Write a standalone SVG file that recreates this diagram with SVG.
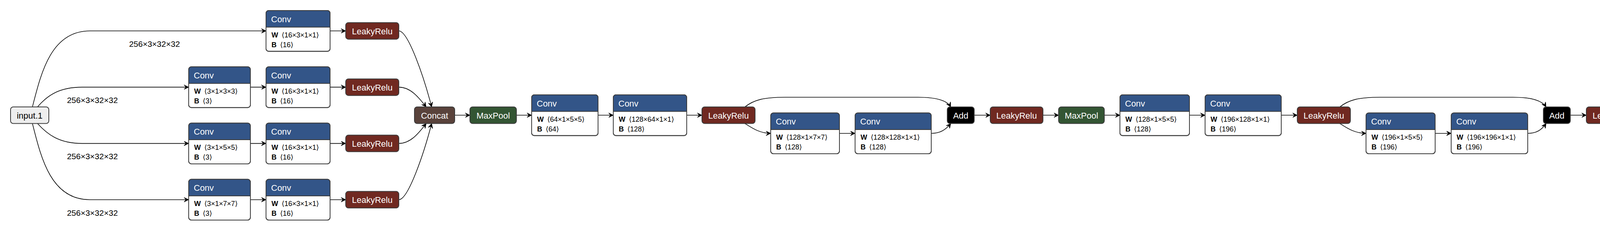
<svg xmlns="http://www.w3.org/2000/svg" width="5108" height="592" viewBox="0 0 5108 592">
<defs>
<marker id="arr" markerUnits="userSpaceOnUse" markerWidth="12" markerHeight="12" refX="10" refY="5" orient="auto" viewBox="0 0 10 10">
<path d="M0,0 L10,5 L0,10 L4,5 z" fill="#000" stroke="#000" stroke-width="0.8"/>
</marker>
<style>
text{font-family:"Liberation Sans",Arial,"DejaVu Sans",sans-serif}
.bx{stroke:#3a3a3a;stroke-width:2}
.t{font-size:22px;fill:#fff}
.tc{text-anchor:middle}
.io{fill:#eee;stroke:#3a3a3a;stroke-width:2}
.tio{font-size:22px;fill:#000;text-anchor:middle}
.wh{fill:#fff;stroke:#3a3a3a;stroke-width:2}
.a{font-size:18px;fill:#000}
.b{font-weight:bold}
.e{fill:none;stroke:#000;stroke-width:1.6;marker-end:url(#arr)}
.lbl{font-size:21px;fill:#000;text-anchor:middle}
.conv{fill:#335588}
.act{fill:#702921}
.pool{fill:#335533}
.cat{fill:#59423b}
.shp{fill:#6c4f47}
.add{fill:#000}
.sep{stroke:#3a3a3a;stroke-width:2}
</style>
</defs>
<rect width="5108" height="592" fill="#fff"/>

<g id="edges">
<path class="e" d="M83,274 C105,188 130,79.2 230,79.2 L681,79.2"/>
<path class="e" d="M96,274 C120,246 150,223.4 210,223.4 L483,223.4"/>
<path class="e" d="M96,316.5 C120,343 150,367.6 210,367.6 L483,367.6"/>
<path class="e" d="M83,316.5 C105,404 130,511.8 230,511.8 L483,511.8"/>
<path class="e" d="M641,223.4 L681,223.4"/>
<path class="e" d="M641,367.6 L681,367.6"/>
<path class="e" d="M641,511.8 L681,511.8"/>
<path class="e" d="M845,79.2 L885,79.2"/>
<path class="e" d="M845,223.4 L885,223.4"/>
<path class="e" d="M845,367.6 L885,367.6"/>
<path class="e" d="M845,511.8 L885,511.8"/>
<path class="e" d="M1021,79.2 C1045,79.2 1085,197 1105,274"/>
<path class="e" d="M1021,223.4 C1050,223.4 1070,247 1091,274"/>
<path class="e" d="M1021,367.6 C1050,367.6 1070,344 1091,316.5"/>
<path class="e" d="M1021,511.8 C1045,511.8 1085,394 1105,316.5"/>
<path class="e" d="M1164,295.25 H1203"/>
<path class="e" d="M1322,295.25 H1361"/>
<path class="e" d="M1531,295.25 H1570"/>
<path class="e" d="M1758,295.25 H1797"/>
<path class="e" d="M1907,274 C1930,256 1955,249.3 2010,249.3 L2350,249.3 C2400,249.3 2425,258 2434,274"/>
<path class="e" d="M1907,316.5 C1925,328 1945,341.75 1973,341.75"/>
<path class="e" d="M2149,341.75 H2189"/>
<path class="e" d="M2384,341.75 C2405,341.75 2420,334 2434,316.5"/>
<path class="e" d="M2494,295.25 H2535"/>
<path class="e" d="M2670,295.25 H2710"/>
<path class="e" d="M2827,295.25 H2867"/>
<path class="e" d="M3045,295.25 H3085"/>
<path class="e" d="M3280,295.25 H3321"/>
<path class="e" d="M3430,274 C3453,256 3478,249.3 3533,249.3 L3873,249.3 C3923,249.3 3948,258 3958,274"/>
<path class="e" d="M3430,316.5 C3448,328 3468,341.75 3497,341.75"/>
<path class="e" d="M3674,341.75 H3715"/>
<path class="e" d="M3911,341.75 C3932,341.75 3946,334 3958,316.5"/>
<path class="e" d="M4020,295.25 H4061"/>
<path class="e" d="M4197,295.25 H4237"/>
<path class="e" d="M4354,295.25 H4394"/>
<path class="e" d="M4544,295.25 H4584"/>
<path class="e" d="M4734,295.25 H4774"/>
<path class="e" d="M4910,295.25 H5023"/>
<text class="lbl" x="395.5" y="120">256×3×32×32</text>
<text class="lbl" x="236.5" y="264.1">256×3×32×32</text>
<text class="lbl" x="236.5" y="408.3">256×3×32×32</text>
<text class="lbl" x="236.5" y="552.5">256×3×32×32</text>
<text class="lbl" x="4967" y="336">256×10</text>
</g>

<g id="input_1">
<rect class="io" x="27" y="274" width="98" height="42.5" rx="7"/>
<text class="tio" x="76" y="303.75">input.1</text>
</g>

<!-- Row 1 -->
<g id="conv_r1c3">
<rect class="wh" x="681" y="27" width="164" height="104.5" rx="7"/>
<path class="conv" d="M681,69.5 V34 Q681,27 688,27 H838 Q845,27 845,34 V69.5 Z"/>
<rect class="bx" x="681" y="27" width="164" height="104.5" rx="7" fill="none"/>
<line class="sep" x1="681" y1="69.5" x2="845" y2="69.5"/>
<text class="t" x="694" y="56.75">Conv</text>
<text class="a b" x="695" y="95.6">W</text><text class="a" x="721" y="95.6">⟨16×3×1×1⟩</text>
<text class="a b" x="695" y="120.5">B</text><text class="a" x="717" y="120.5">⟨16⟩</text>
</g>

<!-- Row 2 -->
<g id="conv_r2c2">
<rect class="wh" x="483" y="171.2" width="158" height="104.5" rx="7"/>
<path class="conv" d="M483,213.7 V178.2 Q483,171.2 490,171.2 H634 Q641,171.2 641,178.2 V213.7 Z"/>
<rect class="bx" x="483" y="171.2" width="158" height="104.5" rx="7" fill="none"/>
<line class="sep" x1="483" y1="213.7" x2="641" y2="213.7"/>
<text class="t" x="496" y="200.9">Conv</text>
<text class="a b" x="497" y="239.8">W</text><text class="a" x="523" y="239.8">⟨3×1×3×3⟩</text>
<text class="a b" x="497" y="264.7">B</text><text class="a" x="519" y="264.7">⟨3⟩</text>
</g>
<g id="conv_r2c3">
<rect class="wh" x="681" y="171.2" width="164" height="104.5" rx="7"/>
<path class="conv" d="M681,213.7 V178.2 Q681,171.2 688,171.2 H838 Q845,171.2 845,178.2 V213.7 Z"/>
<rect class="bx" x="681" y="171.2" width="164" height="104.5" rx="7" fill="none"/>
<line class="sep" x1="681" y1="213.7" x2="845" y2="213.7"/>
<text class="t" x="694" y="200.9">Conv</text>
<text class="a b" x="695" y="239.8">W</text><text class="a" x="721" y="239.8">⟨16×3×1×1⟩</text>
<text class="a b" x="695" y="264.7">B</text><text class="a" x="717" y="264.7">⟨16⟩</text>
</g>

<!-- Row 3 -->
<g id="conv_r3c2">
<rect class="wh" x="483" y="315.4" width="158" height="104.5" rx="7"/>
<path class="conv" d="M483,357.9 V322.4 Q483,315.4 490,315.4 H634 Q641,315.4 641,322.4 V357.9 Z"/>
<rect class="bx" x="483" y="315.4" width="158" height="104.5" rx="7" fill="none"/>
<line class="sep" x1="483" y1="357.9" x2="641" y2="357.9"/>
<text class="t" x="496" y="345.1">Conv</text>
<text class="a b" x="497" y="384">W</text><text class="a" x="523" y="384">⟨3×1×5×5⟩</text>
<text class="a b" x="497" y="408.9">B</text><text class="a" x="519" y="408.9">⟨3⟩</text>
</g>
<g id="conv_r3c3">
<rect class="wh" x="681" y="315.4" width="164" height="104.5" rx="7"/>
<path class="conv" d="M681,357.9 V322.4 Q681,315.4 688,315.4 H838 Q845,315.4 845,322.4 V357.9 Z"/>
<rect class="bx" x="681" y="315.4" width="164" height="104.5" rx="7" fill="none"/>
<line class="sep" x1="681" y1="357.9" x2="845" y2="357.9"/>
<text class="t" x="694" y="345.1">Conv</text>
<text class="a b" x="695" y="384">W</text><text class="a" x="721" y="384">⟨16×3×1×1⟩</text>
<text class="a b" x="695" y="408.9">B</text><text class="a" x="717" y="408.9">⟨16⟩</text>
</g>

<!-- Row 4 -->
<g id="conv_r4c2">
<rect class="wh" x="483" y="459.6" width="158" height="104.5" rx="7"/>
<path class="conv" d="M483,502.1 V466.6 Q483,459.6 490,459.6 H634 Q641,459.6 641,466.6 V502.1 Z"/>
<rect class="bx" x="483" y="459.6" width="158" height="104.5" rx="7" fill="none"/>
<line class="sep" x1="483" y1="502.1" x2="641" y2="502.1"/>
<text class="t" x="496" y="489.3">Conv</text>
<text class="a b" x="497" y="528.2">W</text><text class="a" x="523" y="528.2">⟨3×1×7×7⟩</text>
<text class="a b" x="497" y="553.1">B</text><text class="a" x="519" y="553.1">⟨3⟩</text>
</g>
<g id="conv_r4c3">
<rect class="wh" x="681" y="459.6" width="164" height="104.5" rx="7"/>
<path class="conv" d="M681,502.1 V466.6 Q681,459.6 688,459.6 H838 Q845,459.6 845,466.6 V502.1 Z"/>
<rect class="bx" x="681" y="459.6" width="164" height="104.5" rx="7" fill="none"/>
<line class="sep" x1="681" y1="502.1" x2="845" y2="502.1"/>
<text class="t" x="694" y="489.3">Conv</text>
<text class="a b" x="695" y="528.2">W</text><text class="a" x="721" y="528.2">⟨16×3×1×1⟩</text>
<text class="a b" x="695" y="553.1">B</text><text class="a" x="717" y="553.1">⟨16⟩</text>
</g>

<g id="leaky_r1"><rect class="act bx" x="885" y="57.95" width="136" height="42.5" rx="7"/><text class="t tc" x="953" y="87.7">LeakyRelu</text></g>
<g id="leaky_r2"><rect class="act bx" x="885" y="202.15" width="136" height="42.5" rx="7"/><text class="t tc" x="953" y="231.9">LeakyRelu</text></g>
<g id="leaky_r3"><rect class="act bx" x="885" y="346.35" width="136" height="42.5" rx="7"/><text class="t tc" x="953" y="376.1">LeakyRelu</text></g>
<g id="leaky_r4"><rect class="act bx" x="885" y="490.55" width="136" height="42.5" rx="7"/><text class="t tc" x="953" y="520.3">LeakyRelu</text></g>

<g id="concat"><rect class="cat bx" x="1061" y="274" width="103" height="42.5" rx="7"/><text class="t tc" x="1112.5" y="303.75">Concat</text></g>
<g id="maxpool_1"><rect class="pool bx" x="1203" y="274" width="119" height="42.5" rx="7"/><text class="t tc" x="1262.5" y="303.75">MaxPool</text></g>

<g id="conv_64">
<rect class="wh" x="1361" y="243" width="170" height="104.5" rx="7"/>
<path class="conv" d="M1361,285.5 V250 Q1361,243 1368,243 H1524 Q1531,243 1531,250 V285.5 Z"/>
<rect class="bx" x="1361" y="243" width="170" height="104.5" rx="7" fill="none"/>
<line class="sep" x1="1361" y1="285.5" x2="1531" y2="285.5"/>
<text class="t" x="1374" y="272.75">Conv</text>
<text class="a b" x="1375" y="311.6">W</text><text class="a" x="1401" y="311.6">⟨64×1×5×5⟩</text>
<text class="a b" x="1375" y="336.5">B</text><text class="a" x="1397" y="336.5">⟨64⟩</text>
</g>
<g id="conv_128a">
<rect class="wh" x="1570" y="243" width="188" height="104.5" rx="7"/>
<path class="conv" d="M1570,285.5 V250 Q1570,243 1577,243 H1751 Q1758,243 1758,250 V285.5 Z"/>
<rect class="bx" x="1570" y="243" width="188" height="104.5" rx="7" fill="none"/>
<line class="sep" x1="1570" y1="285.5" x2="1758" y2="285.5"/>
<text class="t" x="1583" y="272.75">Conv</text>
<text class="a b" x="1584" y="311.6">W</text><text class="a" x="1610" y="311.6">⟨128×64×1×1⟩</text>
<text class="a b" x="1584" y="336.5">B</text><text class="a" x="1606" y="336.5">⟨128⟩</text>
</g>
<g id="leaky_5"><rect class="act bx" x="1797" y="274" width="136" height="42.5" rx="7"/><text class="t tc" x="1865" y="303.75">LeakyRelu</text></g>

<g id="conv_128b">
<rect class="wh" x="1973" y="289.5" width="176" height="104.5" rx="7"/>
<path class="conv" d="M1973,332 V296.5 Q1973,289.5 1980,289.5 H2142 Q2149,289.5 2149,296.5 V332 Z"/>
<rect class="bx" x="1973" y="289.5" width="176" height="104.5" rx="7" fill="none"/>
<line class="sep" x1="1973" y1="332" x2="2149" y2="332"/>
<text class="t" x="1986" y="319.25">Conv</text>
<text class="a b" x="1987" y="358.1">W</text><text class="a" x="2013" y="358.1">⟨128×1×7×7⟩</text>
<text class="a b" x="1987" y="383">B</text><text class="a" x="2009" y="383">⟨128⟩</text>
</g>
<g id="conv_128c">
<rect class="wh" x="2189" y="289.5" width="195" height="104.5" rx="7"/>
<path class="conv" d="M2189,332 V296.5 Q2189,289.5 2196,289.5 H2377 Q2384,289.5 2384,296.5 V332 Z"/>
<rect class="bx" x="2189" y="289.5" width="195" height="104.5" rx="7" fill="none"/>
<line class="sep" x1="2189" y1="332" x2="2384" y2="332"/>
<text class="t" x="2202" y="319.25">Conv</text>
<text class="a b" x="2203" y="358.1">W</text><text class="a" x="2229" y="358.1">⟨128×128×1×1⟩</text>
<text class="a b" x="2203" y="383">B</text><text class="a" x="2225" y="383">⟨128⟩</text>
</g>
<g id="add_1"><rect class="add bx" x="2425" y="274" width="69" height="42.5" rx="7"/><text class="t tc" x="2459.5" y="303.75">Add</text></g>
<g id="leaky_6"><rect class="act bx" x="2535" y="274" width="135" height="42.5" rx="7"/><text class="t tc" x="2602.5" y="303.75">LeakyRelu</text></g>
<g id="maxpool_2"><rect class="pool bx" x="2710" y="274" width="117" height="42.5" rx="7"/><text class="t tc" x="2768.5" y="303.75">MaxPool</text></g>

<g id="conv_128d">
<rect class="wh" x="2867" y="243" width="178" height="104.5" rx="7"/>
<path class="conv" d="M2867,285.5 V250 Q2867,243 2874,243 H3038 Q3045,243 3045,250 V285.5 Z"/>
<rect class="bx" x="2867" y="243" width="178" height="104.5" rx="7" fill="none"/>
<line class="sep" x1="2867" y1="285.5" x2="3045" y2="285.5"/>
<text class="t" x="2880" y="272.75">Conv</text>
<text class="a b" x="2881" y="311.6">W</text><text class="a" x="2907" y="311.6">⟨128×1×5×5⟩</text>
<text class="a b" x="2881" y="336.5">B</text><text class="a" x="2903" y="336.5">⟨128⟩</text>
</g>
<g id="conv_196a">
<rect class="wh" x="3085" y="243" width="195" height="104.5" rx="7"/>
<path class="conv" d="M3085,285.5 V250 Q3085,243 3092,243 H3273 Q3280,243 3280,250 V285.5 Z"/>
<rect class="bx" x="3085" y="243" width="195" height="104.5" rx="7" fill="none"/>
<line class="sep" x1="3085" y1="285.5" x2="3280" y2="285.5"/>
<text class="t" x="3098" y="272.75">Conv</text>
<text class="a b" x="3099" y="311.6">W</text><text class="a" x="3125" y="311.6">⟨196×128×1×1⟩</text>
<text class="a b" x="3099" y="336.5">B</text><text class="a" x="3121" y="336.5">⟨196⟩</text>
</g>
<g id="leaky_7"><rect class="act bx" x="3321" y="274" width="136" height="42.5" rx="7"/><text class="t tc" x="3389" y="303.75">LeakyRelu</text></g>

<g id="conv_196b">
<rect class="wh" x="3497" y="289.5" width="177" height="104.5" rx="7"/>
<path class="conv" d="M3497,332 V296.5 Q3497,289.5 3504,289.5 H3667 Q3674,289.5 3674,296.5 V332 Z"/>
<rect class="bx" x="3497" y="289.5" width="177" height="104.5" rx="7" fill="none"/>
<line class="sep" x1="3497" y1="332" x2="3674" y2="332"/>
<text class="t" x="3510" y="319.25">Conv</text>
<text class="a b" x="3511" y="358.1">W</text><text class="a" x="3537" y="358.1">⟨196×1×5×5⟩</text>
<text class="a b" x="3511" y="383">B</text><text class="a" x="3533" y="383">⟨196⟩</text>
</g>
<g id="conv_196c">
<rect class="wh" x="3715" y="289.5" width="196" height="104.5" rx="7"/>
<path class="conv" d="M3715,332 V296.5 Q3715,289.5 3722,289.5 H3904 Q3911,289.5 3911,296.5 V332 Z"/>
<rect class="bx" x="3715" y="289.5" width="196" height="104.5" rx="7" fill="none"/>
<line class="sep" x1="3715" y1="332" x2="3911" y2="332"/>
<text class="t" x="3728" y="319.25">Conv</text>
<text class="a b" x="3729" y="358.1">W</text><text class="a" x="3755" y="358.1">⟨196×196×1×1⟩</text>
<text class="a b" x="3729" y="383">B</text><text class="a" x="3751" y="383">⟨196⟩</text>
</g>
<g id="add_2"><rect class="add bx" x="3951" y="274" width="69" height="42.5" rx="7"/><text class="t tc" x="3985.5" y="303.75">Add</text></g>
<g id="leaky_8"><rect class="act bx" x="4061" y="274" width="136" height="42.5" rx="7"/><text class="t tc" x="4129" y="303.75">LeakyRelu</text></g>
<g id="maxpool_3"><rect class="pool bx" x="4237" y="274" width="117" height="42.5" rx="7"/><text class="t tc" x="4295.5" y="303.75">MaxPool</text></g>

<g id="reshape">
<rect class="wh" x="4394" y="256" width="150" height="79" rx="7"/>
<path class="shp" d="M4394,298 V263 Q4394,256 4401,256 H4537 Q4544,256 4544,263 V298 Z"/>
<rect class="bx" x="4394" y="256" width="150" height="79" rx="7" fill="none"/>
<line class="sep" x1="4394" y1="298" x2="4544" y2="298"/>
<text class="t" x="4407" y="285.5">Reshape</text>
<text class="a b" x="4407" y="323.3">shape</text><text class="a" x="4471" y="323.3">⟨2⟩</text>
</g>
<g id="gemm">
<rect class="wh" x="4584" y="243" width="150" height="104.5" rx="7"/>
<path class="conv" d="M4584,285.5 V250 Q4584,243 4591,243 H4727 Q4734,243 4734,250 V285.5 Z"/>
<rect class="bx" x="4584" y="243" width="150" height="104.5" rx="7" fill="none"/>
<line class="sep" x1="4584" y1="285.5" x2="4734" y2="285.5"/>
<text class="t" x="4597" y="272.75">Gemm</text>
<text class="a b" x="4598" y="311.6">B</text><text class="a" x="4620" y="311.6">⟨10×1764⟩</text>
<text class="a b" x="4598" y="336.5">C</text><text class="a" x="4620" y="336.5">⟨10⟩</text>
</g>
<g id="leaky_9"><rect class="act bx" x="4774" y="274" width="136" height="42.5" rx="7"/><text class="t tc" x="4842" y="303.75">LeakyRelu</text></g>
<g id="output_86">
<rect class="io" x="5023" y="274" width="56" height="42.5" rx="7"/>
<text class="tio" x="5051" y="303.75">86</text>
</g>
</svg>
